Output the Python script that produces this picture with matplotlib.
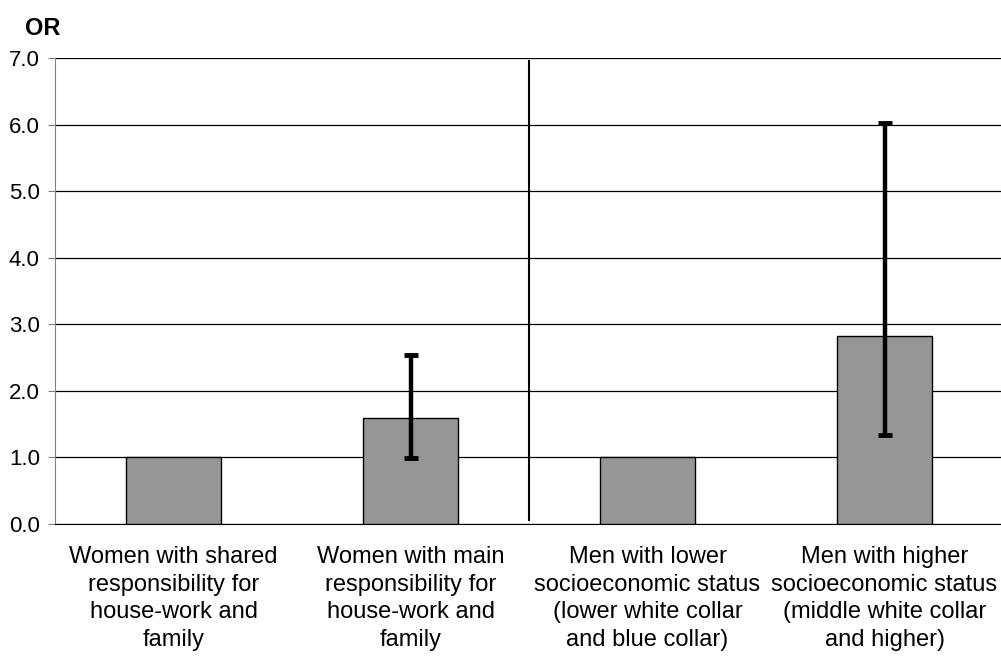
import numpy as np
import matplotlib.pyplot as plt

plt.rcParams['font.family'] = ['Liberation Sans', 'DejaVu Sans']

# data
categories = ["Women with shared\nresponsibility for\nhouse-work and\nfamily",
              "Women with main\nresponsibility for\nhouse-work and\nfamily",
              "Men with lower\nsocioeconomic status\n(lower white collar\nand blue collar)",
              "Men with higher\nsocioeconomic status\n(middle white collar\nand higher)"]
odds_ratio = [1.0, 1.59, 1.0, 2.83]
ci_low = [np.nan, 0.99, np.nan, 1.33]
ci_high = [np.nan, 2.54, np.nan, 6.02]
y_ticks = [0, 1, 2, 3, 4, 5, 6, 7]

fig = plt.figure(figsize=(10.01, 6.57), dpi=100)
ax = fig.add_axes([0.055, 0.2024, 0.947, 0.7093])

x = np.arange(len(categories))
ax.bar(x, odds_ratio, width=0.4, color='#969696', edgecolor='black', linewidth=1, zorder=3)

# error bars only where a CI exists
or_arr = np.array(odds_ratio)
lo = or_arr - np.array(ci_low)
hi = np.array(ci_high) - or_arr
has_ci = ~np.isnan(lo)
ax.errorbar(x[has_ci], or_arr[has_ci], yerr=[lo[has_ci], hi[has_ci]], fmt='none',
            ecolor='black', elinewidth=3.2, capsize=5, capthick=3.5, zorder=4)

# divider between women and men
ax.plot([1.5, 1.5], [0.06, 6.95], color='black', linewidth=1.5, zorder=4)

ax.set_xlim(-0.5, 3.5)
ax.set_ylim(0, 7)
ax.set_yticks(y_ticks)
ax.set_yticklabels([f"{v:.1f}" for v in y_ticks], fontsize=16)
ax.yaxis.grid(True, color='black', linewidth=0.9, zorder=0)
ax.set_axisbelow(True)

ax.set_xticks(x)
ax.set_xticklabels(categories, fontsize=17, linespacing=1.32)
ax.tick_params(axis='x', length=0, pad=16)
ax.tick_params(axis='y', length=5, color='#808080', pad=6)

for s in ['top', 'right']:
    ax.spines[s].set_visible(False)
ax.spines['left'].set_color('#808080')
ax.spines['bottom'].set_color('black')

fig.text(0.025, 0.957, "OR", fontsize=17, fontweight='bold', ha='left', va='center')

fig.savefig('out.png', dpi=100)
